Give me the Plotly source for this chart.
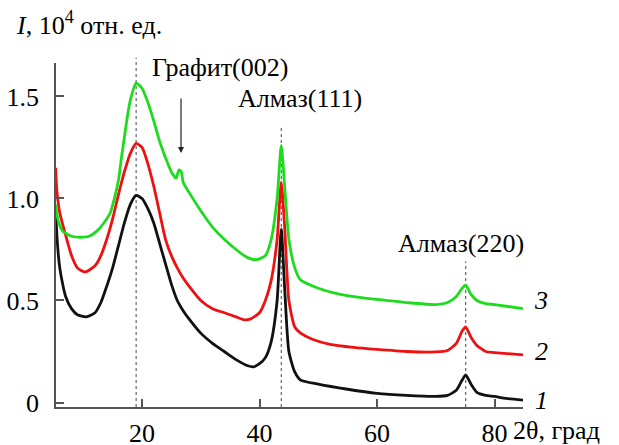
import plotly.graph_objects as go

# XRD patterns: 2θ (deg) and intensity (10^4 a.u.), curves 1 (black), 2 (red), 3 (green)
theta_1 = [5.3, 5.6, 6.0, 6.5, 7.0, 8.0, 9.0, 10.5, 12.0, 13.0, 14.0, 15.0, 16.0, 17.0, 18.0, 19.0,
           20.0, 21.0, 22.0, 23.0, 24.0, 25.0, 26.0, 27.0, 28.0, 30.0, 32.0, 34.0, 36.0, 38.0, 39.0,
           40.0, 41.0, 42.0, 43.0, 43.7, 44.3, 45.0, 46.0, 47.0, 50.0, 55.0, 60.0, 65.0, 70.0, 72.0,
           73.5, 74.5, 75.1, 76.0, 77.0, 78.5, 80.0, 82.0, 84.9]
int_1 = [0.94, 0.78, 0.66, 0.58, 0.52, 0.46, 0.43, 0.42, 0.44, 0.49, 0.57, 0.66, 0.77, 0.88, 0.97, 1.015,
         1.00, 0.95, 0.88, 0.78, 0.68, 0.58, 0.50, 0.45, 0.41, 0.34, 0.29, 0.25, 0.21, 0.18, 0.175,
         0.19, 0.22, 0.30, 0.50, 0.85, 0.55, 0.25, 0.15, 0.11, 0.09, 0.065, 0.045, 0.035, 0.03, 0.035,
         0.06, 0.11, 0.135, 0.09, 0.05, 0.035, 0.03, 0.02, 0.012]

theta_2 = [5.3, 5.5, 6.0, 7.0, 8.0, 9.0, 10.3, 12.0, 13.0, 14.0, 15.0, 16.0, 17.0, 18.0, 19.0,
           20.0, 21.0, 22.0, 23.0, 24.0, 25.0, 26.0, 27.0, 28.0, 30.0, 32.0, 34.0, 36.0, 37.5, 38.5,
           40.0, 41.0, 42.0, 43.0, 43.7, 44.3, 45.0, 46.0, 47.0, 49.0, 52.0, 56.0, 60.0, 65.0, 70.0,
           72.0, 73.5, 74.5, 75.1, 76.0, 77.0, 78.5, 80.0, 84.9]
int_2 = [1.15, 1.04, 0.93, 0.82, 0.72, 0.66, 0.64, 0.67, 0.72, 0.80, 0.90, 1.02, 1.13, 1.22, 1.27,
         1.25, 1.17, 1.06, 0.93, 0.80, 0.72, 0.66, 0.61, 0.57, 0.50, 0.46, 0.44, 0.42, 0.405, 0.41,
         0.44, 0.50, 0.60, 0.80, 1.08, 0.85, 0.50, 0.37, 0.34, 0.31, 0.285, 0.27, 0.26, 0.25, 0.248,
         0.255, 0.29, 0.35, 0.37, 0.32, 0.28, 0.25, 0.245, 0.233]

theta_3 = [5.3, 5.7, 6.5, 8.0, 9.5, 11.0, 12.3, 13.5, 14.6, 15.3, 16.0, 16.5, 17.0, 17.5, 18.0, 19.0,
           20.0, 21.0, 22.0, 23.0, 24.0, 25.0, 25.8, 26.3, 26.7, 27.0, 28.0, 30.0, 32.0, 34.0, 36.0,
           38.0, 39.5, 41.0, 42.0, 43.0, 43.7, 44.3, 45.0, 46.0, 47.0, 50.0, 53.0, 57.0, 60.0, 65.0,
           70.0, 72.0, 73.5, 74.5, 75.1, 76.0, 77.0, 78.5, 80.0, 84.9]
int_3 = [0.97, 0.895, 0.84, 0.815, 0.81, 0.815, 0.84, 0.88, 0.93, 1.00, 1.09, 1.20, 1.30, 1.40, 1.48, 1.565,
         1.54, 1.47, 1.38, 1.28, 1.20, 1.13, 1.10, 1.14, 1.13, 1.08, 1.03, 0.94, 0.86, 0.80, 0.75,
         0.71, 0.70, 0.72, 0.80, 1.00, 1.26, 1.05, 0.80, 0.66, 0.60, 0.56, 0.535, 0.515, 0.505, 0.49,
         0.48, 0.49, 0.52, 0.56, 0.575, 0.53, 0.50, 0.485, 0.48, 0.46]

x_ticks = [20, 40, 60, 80]
y_ticks = [0, 0.5, 1.0, 1.5]
y_tick_text = ["0", "0.5", "1.0", "1.5"]

# reflection positions marked by dashed guide lines
guide_theta = [19.0, 43.7, 75.1]
guide_top = [1.015, 0.82, 0.423]  # top of each guide, paper units

FONT = "Liberation Serif, 'Times New Roman', Times, serif"
W, H = 619, 445
L, R, T, B = 56, 96, 63, 38
X_RANGE = [5.36, 84.85]
Y_RANGE = [-0.022, 1.664]


def px_x(px):
    return (px - L) / (W - L - R)


def px_y(py):
    return (H - B - py) / (H - T - B)


fig = go.Figure()
for th, val, col in [(theta_1, int_1, "#111111"), (theta_2, int_2, "#ee1111"), (theta_3, int_3, "#1ddc1d")]:
    fig.add_trace(go.Scatter(x=th, y=val, mode="lines", line=dict(color=col, width=2.8, shape="spline", smoothing=0.6),
                             hoverinfo="skip", showlegend=False))

for th, top in zip(guide_theta, guide_top):
    fig.add_shape(type="line", xref="x", yref="paper", x0=th, x1=th, y0=0, y1=top,
                  line=dict(color="#444444", width=1, dash="3px,3px"), layer="below")

ann = dict(font=dict(family=FONT, size=26, color="black"), showarrow=False, xref="paper", yref="paper")
fig.add_annotation(text="<i>I</i>, 10<sup>4</sup> отн. ед.", x=px_x(14), y=px_y(23), xanchor="left", yanchor="middle", **ann)
fig.add_annotation(text="2θ, град", x=px_x(511), y=px_y(431), xanchor="left", yanchor="middle", **ann)
fig.add_annotation(text="Графит(002)", x=px_x(150), y=px_y(67), xanchor="left", yanchor="middle", **ann)
fig.add_annotation(text="Алмаз(111)", x=px_x(236), y=px_y(99), xanchor="left", yanchor="middle", **ann)
fig.add_annotation(text="Алмаз(220)", x=px_x(526), y=px_y(243), xanchor="right", yanchor="middle", **ann)
for lab, py in [("3", 300), ("2", 351), ("1", 400)]:
    fig.add_annotation(text=f"<i>{lab}</i>", x=px_x(541), y=px_y(py), xanchor="center", yanchor="middle", **ann)

# arrow pointing at the graphite reflection
fig.add_annotation(x=26.64, y=1.223, xref="x", yref="y", ax=0, ay=-56, text="", showarrow=True,
                   arrowhead=2, arrowsize=1, arrowwidth=1.2, arrowcolor="#222222")

axis_common = dict(showline=True, linecolor="#555555", linewidth=1.5, ticks="inside", ticklen=8,
                   tickwidth=1.5, tickcolor="#555555", showgrid=False, zeroline=False, automargin=False,
                   tickfont=dict(family=FONT, size=26, color="black"))
fig.update_xaxes(range=X_RANGE, tickvals=x_ticks, ticklabelstandoff=2, **axis_common)
fig.update_yaxes(range=Y_RANGE, tickvals=y_ticks, ticktext=y_tick_text, ticklabelstandoff=10, **axis_common)

fig.update_layout(width=W, height=H, margin=dict(l=L, r=R, t=T, b=B), plot_bgcolor="white",
                  paper_bgcolor="white", showlegend=False)

fig.write_html("out.html")
